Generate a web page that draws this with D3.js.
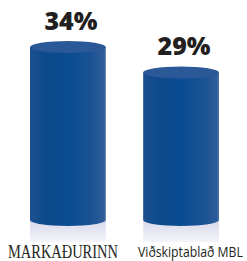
<!DOCTYPE html>
<html>
<head>
<meta charset="utf-8">
<script src="https://cdn.jsdelivr.net/npm/d3@7"></script>
<style>
  body { margin: 0; background: #fff; }
</style>
</head>
<body>
<div id="container"></div>
<script>
/* DATA */
const categories = ["MARKAÐURINN", "Viðskiptablað MBL"];
const values = [34, 29];
const valueLabels = ["34%", "29%"];

/* CONSTANTS */
const width = 247;
const height = 261;
const margin = { top: 47, bottom: 35, left: 30, right: 28 };
const ry = 6;

const svg = d3.select("#container")
  .append("svg")
  .attr("width", width)
  .attr("height", height);

// SCALES
const xScale = d3.scaleBand()
  .domain(categories)
  .range([margin.left, width - margin.right])
  .paddingInner(0.33)
  .paddingOuter(0);

const yScale = d3.scaleLinear()
  .domain([0, 34])
  .range([height - margin.bottom - ry, margin.top]);

// GRADIENTS
const defs = svg.append("defs");
const body = defs.append("linearGradient").attr("id", "body");
[[0, "#1d5090"], [0.2, "#0d4a8b"], [0.5, "#094c92"], [0.8, "#1a5293"], [0.97, "#2f5c99"], [1, "#4a73a8"]]
  .forEach(([o, c]) => body.append("stop").attr("offset", o).attr("stop-color", c));

const refl = defs.append("linearGradient").attr("id", "refl")
  .attr("x1", 0).attr("y1", 0).attr("x2", 0).attr("y2", 1);
refl.append("stop").attr("offset", 0).attr("stop-color", "#d8d9ea");
refl.append("stop").attr("offset", 1).attr("stop-color", "#f4f4fa");

const base = yScale(0);
const bw = xScale.bandwidth();

const g = svg.selectAll(".cyl")
  .data(categories)
  .join("g")
  .attr("class", "cyl")
  .attr("transform", d => `translate(${xScale(d)},0)`);

// reflection
g.append("rect")
  .attr("x", 0)
  .attr("y", base)
  .attr("width", bw)
  .attr("height", 22)
  .attr("fill", "url(#refl)");

// body
g.append("path")
  .attr("fill", "url(#body)")
  .attr("d", (d, i) => {
    const top = yScale(values[i]);
    return `M0,${top} L0,${base} A${bw / 2},${ry} 0 0 0 ${bw},${base} L${bw},${top} Z`;
  });

// top
g.append("ellipse")
  .attr("cx", bw / 2)
  .attr("cy", (d, i) => yScale(values[i]))
  .attr("rx", bw / 2)
  .attr("ry", ry)
  .attr("fill", "#2b5998");

// value labels
g.append("text")
  .attr("x", bw / 2 + 3)
  .attr("y", (d, i) => yScale(values[i]) - 17)
  .attr("text-anchor", "middle")
  .attr("font-family", "'Open Sans', 'DejaVu Sans', sans-serif")
  .attr("font-weight", 800)
  .attr("font-size", 25)
  .attr("fill", "#231f20")
  .text((d, i) => valueLabels[i]);

// category labels, squeezed horizontally to the widths in the picture
const labelSpec = [
  { x: 8, y: 258, w: 110, font: "'Liberation Serif', serif", size: 18 },
  { x: 138, y: 257, w: 105, font: "'Open Sans', sans-serif", size: 14.5 }
];

categories.forEach((c, i) => {
  const s = labelSpec[i];
  const t = svg.append("text")
    .attr("font-family", s.font)
    .attr("font-size", s.size)
    .attr("fill", "#231f20")
    .text(c);
  const k = s.w / t.node().getComputedTextLength();
  t.attr("transform", `translate(${s.x},${s.y}) scale(${k},1)`);
});
</script>
</body>
</html>
